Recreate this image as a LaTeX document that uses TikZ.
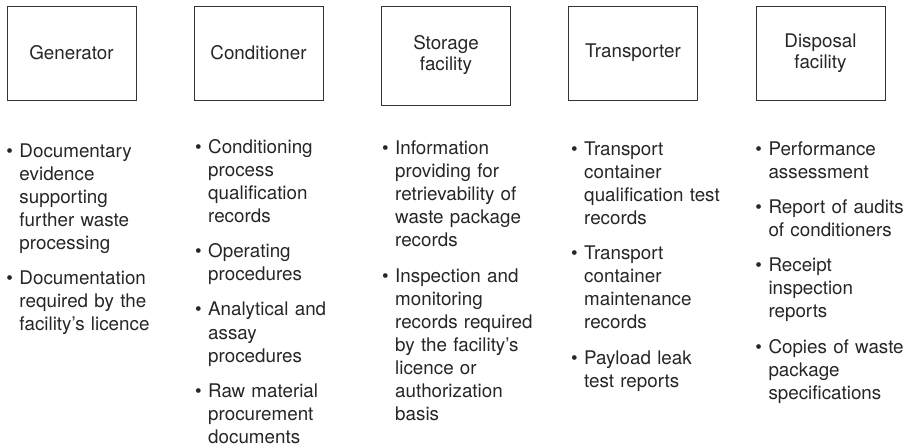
\documentclass[tikz,border=0pt]{standalone}
\usepackage{fontspec}
\setmainfont{TeX Gyre Heros}
\usetikzlibrary{positioning}

\begin{document}
\begin{tikzpicture}[x=1pt, y=1pt,
        box/.style={draw=black!80, line width=0.9pt, minimum width=129pt, minimum height=94pt,
            align=center, text=black!85, font=\fontsize{18.8}{21}\selectfont},
        item/.style={anchor=north west, inner sep=0pt, text width=170pt, align=left,
            text=black!85, font=\fontsize{18.8}{23.1}\selectfont,
            execute at begin node={\noindent\llap{\textbullet\hspace{6.5pt}}\strut},
            execute at end node={\strut}},
        itembelow/.style={below right=11.7pt and 0pt of #1.south west}]
        \useasboundingbox (0, 0) rectangle (911, -446);

        \node[box] (gen) at (71.5, -53) {Generator};
        \node[box] (con) at (258.5, -53) {Conditioner};
        \node[box, minimum height=99pt] (sto) at (446, -55.5) {Storage\\facility};
        \node[box] (tra) at (633, -53) {Transporter};
        \node[box] (dis) at (820.5, -53) {Disposal\\facility};

        \node[item] (gen1) at (19.3, -140.8) {Documentary\\evidence\\supporting\\further waste\\processing};
        \node[item, itembelow=gen1] (gen2) {Documentation\\required by the\\facility's licence};

        \node[item] (con1) at (208, -136.8) {Conditioning\\process\\qualification\\records};
        \node[item, itembelow=con1] (con2) {Operating\\procedures};
        \node[item, itembelow=con2] (con3) {Analytical and\\assay\\procedures};
        \node[item, itembelow=con3] (con4) {Raw material\\procurement\\documents};

        \node[item] (sto1) at (395, -138.2) {Information\\providing for\\retrievability of\\waste package\\records};
        \node[item, itembelow=sto1] (sto2) {Inspection and\\monitoring\\records required\\by the facility's\\licence or\\authorization\\basis};

        \node[item] (tra1) at (584, -138.7) {Transport\\container\\qualification test\\records};
        \node[item, itembelow=tra1] (tra2) {Transport\\container\\maintenance\\records};
        \node[item, itembelow=tra2] (tra3) {Payload leak\\test reports};

        \node[item] (dis1) at (768.3, -138.7) {Performance\\assessment};
        \node[item, itembelow=dis1] (dis2) {Report of audits\\of conditioners};
        \node[item, itembelow=dis2] (dis3) {Receipt\\inspection\\reports};
        \node[item, itembelow=dis3] (dis4) {Copies of waste\\package\\specifications};
    \end{tikzpicture}
\end{document}
